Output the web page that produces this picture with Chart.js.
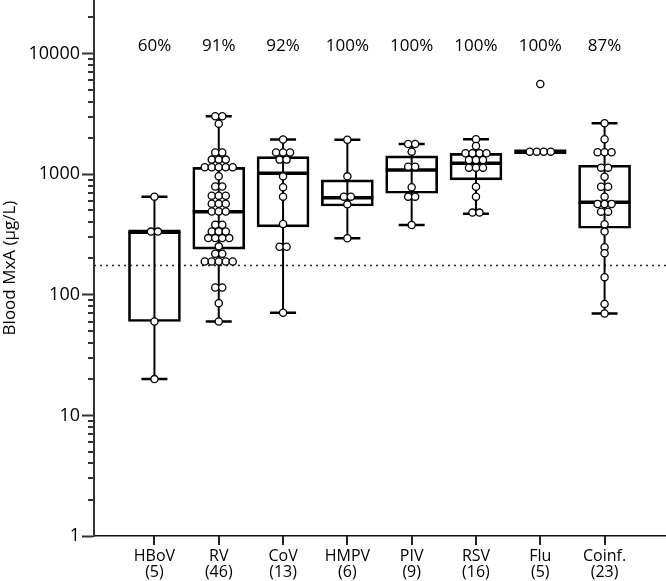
<!DOCTYPE html>
<html>
<head>
<meta charset="utf-8">
<script src="https://cdn.jsdelivr.net/npm/chart.js@4.4.0/dist/chart.umd.min.js"></script>
<style>
  body { margin: 0; background: #fff; }
  canvas { display: block; }
</style>
</head>
<body>
<canvas id="mxa-chart" width="666" height="581"></canvas>
<script>
// --- values --- //
const groups = ["HBoV", "RV", "CoV", "HMPV", "PIV", "RSV", "Flu", "Coinf."];
const groupN = [5, 46, 13, 6, 9, 16, 5, 23];
const positivePct = ["60%", "91%", "92%", "100%", "100%", "100%", "100%", "87%"];

// one value per patient (µg/L)
const hbovValues = [651, 334, 334, 60, 20];
const rvValues = [3020, 3020, 2620, 1515, 1515, 1320, 1320, 1320, 1140, 1140, 1140, 1140, 1140, 960, 790, 790,
    663, 663, 663, 569, 569, 569, 491, 491, 491, 381, 381, 335, 335, 335, 295, 295, 295, 295, 252, 219, 219,
    189, 189, 189, 189, 189, 115, 115, 85, 60];
const covValues = [1940, 1515, 1515, 1515, 1320, 1320, 959, 778, 651, 386, 250, 250, 71];
const hmpvValues = [1930, 959, 651, 651, 562, 294];
const pivValues = [1780, 1780, 1537, 1154, 1154, 778, 651, 651, 379];
const rsvValues = [1946, 1714, 1489, 1489, 1489, 1489, 1312, 1312, 1312, 1132, 1132, 1132, 787, 651, 480, 480];
const fluValues = [5600, 1537, 1537, 1537, 1537];
const coinfValues = [2642, 1946, 1520, 1520, 1520, 1132, 1132, 953, 787, 787, 651, 566, 566, 566, 489, 489,
    384, 334, 248, 221, 140, 84, 70];

// box summaries: whisker ends, hinges and median
const boxMin = [20, 60, 71, 294, 379, 470, 1537, 70];
const boxQ1 = [60, 239, 366, 545, 695, 896, 1537, 356];
const boxMedian = [334, 488, 1018, 638, 1084, 1231, 1537, 585];
const boxQ3 = [334, 1140, 1399, 896, 1416, 1489, 1537, 1186];
const boxMax = [651, 3020, 1940, 1930, 1780, 1946, 1537, 2642];

const cutoff = 175;
const yTickValues = [1, 10, 100, 1000, 10000];

const allValues = [hbovValues, rvValues, covValues, hmpvValues, pivValues, rsvValues, fluValues, coinfValues];

// build the datasets from the arrays above
const pointData = allValues.flatMap((vals, i) => vals.map(v => ({ x: i, y: v })));
const boxData = groups.map((g, i) => ({ x: i, y: [boxQ1[i], boxQ3[i]] }));

const boxWidth = 52;
const dotStep = 7;

// -- extras: whiskers, medians, cutoff line, axis ticks, % labels -- //
const boxPlotPlugin = {
    id: 'boxPlotExtras',
    afterDatasetsUpdate(chart) {
        // spread points that share a value side by side (beeswarm style)
        const meta = chart.getDatasetMeta(0);
        const counts = {};
        pointData.forEach(p => {
            const key = p.x + '|' + p.y;
            counts[key] = (counts[key] || 0) + 1;
        });
        const seen = {};
        meta.data.forEach((el, j) => {
            const p = pointData[j];
            const key = p.x + '|' + p.y;
            const k = seen[key] || 0;
            seen[key] = k + 1;
            el.x += (k - (counts[key] - 1) / 2) * dotStep;
        });
    },
    beforeDatasetsDraw(chart) {
        const { ctx, chartArea, scales: { y } } = chart;
        const yPx = y.getPixelForValue(cutoff);
        ctx.save();
        ctx.setLineDash([2, 4]);
        ctx.lineWidth = 1.5;
        ctx.strokeStyle = '#222';
        ctx.beginPath();
        ctx.moveTo(chartArea.left, yPx);
        ctx.lineTo(chartArea.right, yPx);
        ctx.stroke();
        ctx.restore();
    },
    afterDatasetDraw(chart, args) {
        if (args.index !== 1) return;
        const { ctx, scales: { x, y } } = chart;
        ctx.save();
        ctx.strokeStyle = '#000';
        groups.forEach((g, i) => {
            const cx = x.getPixelForValue(i);
            const yMin = y.getPixelForValue(boxMin[i]);
            const yMax = y.getPixelForValue(boxMax[i]);
            if (boxMax[i] > boxMin[i]) {
                ctx.lineWidth = 2;
                ctx.beginPath();
                ctx.moveTo(cx, yMin);
                ctx.lineTo(cx, yMax);
                ctx.stroke();
                ctx.lineWidth = 2.5;
                ctx.beginPath();
                ctx.moveTo(cx - 13, yMin);
                ctx.lineTo(cx + 13, yMin);
                ctx.moveTo(cx - 13, yMax);
                ctx.lineTo(cx + 13, yMax);
                ctx.stroke();
            }
            const yMed = y.getPixelForValue(boxMedian[i]);
            ctx.lineWidth = boxQ1[i] === boxQ3[i] ? 4.5 : 3.5;
            ctx.beginPath();
            ctx.moveTo(cx - boxWidth / 2, yMed);
            ctx.lineTo(cx + boxWidth / 2, yMed);
            ctx.stroke();
        });
        ctx.restore();
    },
    afterDraw(chart) {
        const { ctx, chartArea, scales: { x, y } } = chart;
        ctx.save();
        // minor log ticks
        ctx.strokeStyle = '#333';
        ctx.lineWidth = 2;
        ctx.beginPath();
        yTickValues.forEach(d => {
            for (let m = 2; m <= 9; m++) {
                const v = m * d;
                if (v > y.max) continue;
                const py = Math.round(y.getPixelForValue(v));
                ctx.moveTo(chartArea.left - 6, py);
                ctx.lineTo(chartArea.left, py);
            }
        });
        ctx.stroke();
        // category tick marks below the x axis
        ctx.strokeStyle = '#222';
        ctx.beginPath();
        groups.forEach((g, i) => {
            const px = Math.round(x.getPixelForValue(i));
            ctx.moveTo(px, chartArea.bottom);
            ctx.lineTo(px, chartArea.bottom + 9);
        });
        ctx.stroke();
        // percent of positives above each group
        ctx.fillStyle = '#000';
        ctx.font = '17px "Open Sans"';
        ctx.textAlign = 'center';
        ctx.textBaseline = 'middle';
        positivePct.forEach((t, i) => {
            ctx.fillText(t, x.getPixelForValue(i), 46);
        });
        ctx.restore();
    }
};

const mxaChart = new Chart(document.getElementById('mxa-chart'), {
    type: 'bar',
    data: {
        datasets: [{
            type: 'scatter',
            data: pointData,
            order: 1,
            clip: false,
            pointRadius: 3.6,
            pointBorderWidth: 1.3,
            pointBackgroundColor: '#fff',
            pointBorderColor: '#000'
        }, {
            type: 'bar',
            data: boxData,
            order: 2,
            barThickness: boxWidth,
            backgroundColor: 'rgba(0,0,0,0)',
            borderColor: '#000',
            borderWidth: 2,
            borderSkipped: false
        }]
    },
    options: {
        responsive: false,
        animation: false,
        layout: { padding: 0, autoPadding: false },
        plugins: {
            legend: { display: false },
            tooltip: { enabled: false }
        },
        scales: {
            x: {
                type: 'linear',
                min: -0.94,
                max: 7.955,
                offset: false,
                afterBuildTicks: s => { s.ticks = groups.map((g, i) => ({ value: i })); },
                afterFit: s => {
                    s.height = 45;
                    s.paddingLeft = 0;
                    s.paddingRight = 0;
                },
                ticks: {
                    autoSkip: false,
                    maxRotation: 0,
                    padding: 5,
                    color: '#000',
                    font: { family: 'Open Sans', size: 16, lineHeight: 0.97 },
                    callback: v => Number.isInteger(v) && groups[v] ? [groups[v], '(' + groupN[v] + ')'] : ''
                },
                grid: { display: false, drawOnChartArea: false, offset: false },
                border: { display: true, color: '#111', width: 1.5 }
            },
            y: {
                type: 'logarithmic',
                min: 1,
                max: 27800,
                afterBuildTicks: s => { s.ticks = yTickValues.map(v => ({ value: v })); },
                afterFit: s => {
                    s.width = 94;
                    s.paddingTop = 0;
                    s.paddingBottom = 0;
                },
                ticks: {
                    padding: 2,
                    color: '#000',
                    font: { family: 'Open Sans', size: 18 },
                    callback: v => String(v)
                },
                grid: { drawOnChartArea: false, tickLength: 12, tickWidth: 2, tickColor: '#333' },
                border: { color: '#333', width: 2 },
                title: {
                    display: true,
                    text: 'Blood MxA (µg/L)',
                    color: '#000',
                    font: { family: 'Open Sans', size: 17 },
                    padding: 0
                }
            }
        }
    },
    plugins: [boxPlotPlugin]
});
</script>
</body>
</html>
